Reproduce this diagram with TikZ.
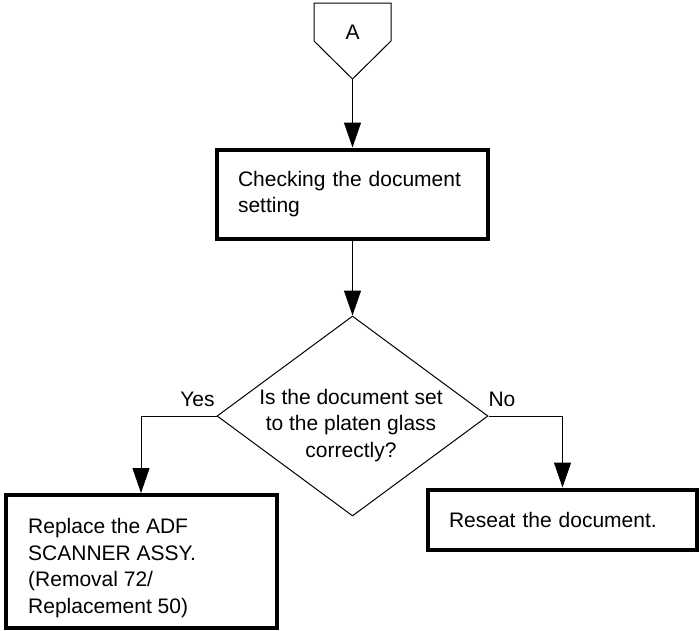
\documentclass[tikz,border=0pt]{standalone}
\usepackage{fontspec}
\setmainfont{Liberation Sans}
\usetikzlibrary{arrows.meta,shapes.geometric}
\tikzset{
  every node/.style={font=\fontsize{21}{26.7}\selectfont},
  thin line/.style={line width=1pt, draw=black},
  flow/.style={thin line, -{Triangle[length=25pt,width=17pt]}},
  box/.style={draw=black, line width=4pt, inner xsep=21pt, inner ysep=0pt, align=left},
  plain/.style={inner sep=0pt},
}
\begin{document}
\begin{tikzpicture}[x=1pt,y=-1pt]
\useasboundingbox (0,0) rectangle (699,630);
% off-page connector A
\coordinate (pA1) at (314,3);
\coordinate (pA2) at (391,3);
\coordinate (pA3) at (391,41);
\coordinate (pAtip) at (352.5,79);
\coordinate (pA4) at (314,41);
\draw[thin line, line join=miter] (pA1) -- (pA2) -- (pA3) -- (pAtip) -- (pA4) -- cycle;
\node[plain] (A) at (352.5,32) {A};
% check box
\node[box, minimum width=271pt, minimum height=89pt, text width=229pt] (b1) at (352.5,194) {Checking the document\\setting};
% decision
\node[diamond, thin line, minimum width=271pt, minimum height=200pt, inner sep=0pt] (d) at (352.5,416) {};
\node[plain, align=center] (dt) at (351,425.5) {Is the document set\\to the platen glass\\correctly?};
% result boxes
\node[box, minimum width=271pt, minimum height=132.5pt] (b2) at (141,561.25) {};
\node[plain, align=left, anchor=west] (b2t) at (28,568) {Replace the ADF\\SCANNER ASSY.\\(Removal 72/\\Replacement 50)};
\node[box, minimum width=269pt, minimum height=60pt, text width=227pt] (b3) at (562.5,519.5) {Reseat the document.};
% labels
\node[plain] (yes) at (197.5,399) {Yes};
\node[plain] (no) at (502,399) {No};
% connectors
\draw[flow] (pAtip) -- (b1.north);
\draw[flow] (b1.south) -- (d.north);
\draw[flow] (d.west) -| (b2.north);
\draw[flow] (d.east) -| (b3.north);
\end{tikzpicture}
\end{document}
